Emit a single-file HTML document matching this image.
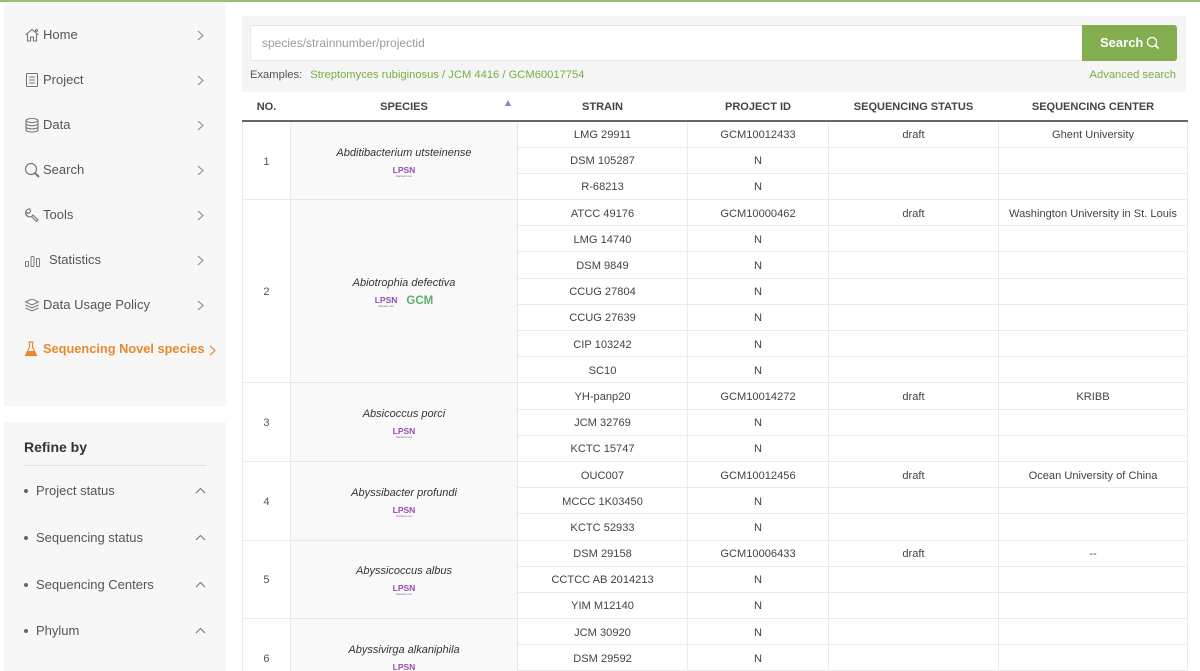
<!DOCTYPE html>
<html><head><meta charset="utf-8">
<style>
*{margin:0;padding:0;box-sizing:border-box}
html,body{width:1200px;height:671px;overflow:hidden;background:#fff;font-family:"Liberation Sans",Arial,sans-serif;color:#444;position:relative}
.topline{position:absolute;left:0;top:0;width:1200px;height:2px;background:#92c36b}
.panel{position:absolute;left:4px;width:222px;background:#f7f7f7}
.mi{position:absolute;left:0;width:222px;height:20px;font-size:13px;color:#555;line-height:20px}
.mi .ic{position:absolute;left:20px;top:2px}
.mi .tx{position:absolute;left:39px;top:0}
.mi .ch{position:absolute;left:193px;top:5px}
.rf{position:absolute;left:0;width:222px;height:20px;font-size:13px;color:#555;line-height:20px}
.rf .dot{position:absolute;left:20px;top:8px;width:4px;height:4px;border-radius:50%;background:#666}
.rf .tx{position:absolute;left:32px;top:0}
.rf .ca{position:absolute;left:191px;top:6px}
.sp{position:absolute;left:242px;top:16px;width:944px;height:76px;background:#f5f5f5}
.inp{position:absolute;left:8px;top:9px;width:840px;height:36px;background:#fff;border:1px solid #e8e8e8;border-radius:3px 0 0 3px;font-size:12px;color:#9a9a9a;line-height:34px;padding-left:11px}
.btn{position:absolute;left:840px;top:9px;width:95px;height:36px;background:#83ad4f;border-radius:0 3px 3px 0;color:#fff;font-weight:bold;font-size:13px;line-height:36px;padding-left:18px}
.ex{position:absolute;left:8px;top:52px;font-size:11.2px;color:#555;line-height:14px}
.ex span{color:#76b041;margin-left:8px}
.adv{position:absolute;right:10px;top:52px;font-size:11.2px;color:#76b041;line-height:14px}
table{position:absolute;left:242px;top:93px;width:945px;border-collapse:collapse;table-layout:fixed}
th{height:28px;font-size:11px;font-weight:bold;color:#444;text-align:center;border-bottom:2px solid #666;vertical-align:middle;position:relative}
td{height:26.2px;font-size:11.1px;color:#444;text-align:center;border:1px solid #ebebeb;vertical-align:middle;padding:2px 0 0 0}
td.sp2{background:#f9f9f9;border-color:#e6e6e6}
td.no{color:#555}
.nm{font-style:italic;font-size:11px;color:#333;line-height:14px;margin-top:-1px}
.logos{margin-top:6px;height:11px;display:flex;justify-content:center;align-items:flex-start;gap:9px}
.lpsn{display:inline-block;color:#9a4db0;font-weight:bold;font-size:8.5px;line-height:8px;text-align:center}
.lpsn i{display:block;font-style:normal;font-weight:normal;font-size:3px;line-height:4px;color:#9a4db0}
.gcm{color:#5fae6e;font-weight:bold;font-size:11.5px;line-height:11px}
.arrow{position:absolute;left:263px;top:7px;width:0;height:0;border-left:3px solid transparent;border-right:3px solid transparent;border-bottom:6px solid #7b80d8}
</style></head><body>
<div class="topline"></div>

<div class="panel" style="top:3px;height:403px">
  <div class="mi" style="top:22px">
    <svg class="ic" width="16" height="16" viewBox="0 0 16 16" fill="none" stroke="#777" stroke-width="1.1"><path d="M1.5 8 L8 2.5 L14.5 8"/><path d="M3.5 7 V14 H6.5 V10 H9.5 V14 H12.5 V7"/><circle cx="12.5" cy="3.5" r="1"/></svg>
    <span class="tx">Home</span>
    <svg class="ch" width="7" height="11" viewBox="0 0 7 11"><polyline points="1,1 6,5.5 1,10" fill="none" stroke="#888" stroke-width="1.1"/></svg>
  </div>
  <div class="mi" style="top:67px">
    <svg class="ic" width="16" height="16" viewBox="0 0 16 16" fill="none" stroke="#777" stroke-width="1.1"><rect x="2.5" y="1.5" width="11" height="13" rx="1"/><path d="M5 5h6M5 8h6M5 11h6"/></svg>
    <span class="tx">Project</span>
    <svg class="ch" width="7" height="11" viewBox="0 0 7 11"><polyline points="1,1 6,5.5 1,10" fill="none" stroke="#888" stroke-width="1.1"/></svg>
  </div>
  <div class="mi" style="top:112px">
    <svg class="ic" width="16" height="16" viewBox="0 0 16 16" fill="none" stroke="#777" stroke-width="1.1"><ellipse cx="8" cy="3.5" rx="6" ry="2"/><path d="M2 3.5V13c0 1.1 2.7 2 6 2s6-.9 6-2V3.5"/><path d="M2 6.7c0 1.1 2.7 2 6 2s6-.9 6-2M2 9.9c0 1.1 2.7 2 6 2s6-.9 6-2"/></svg>
    <span class="tx">Data</span>
    <svg class="ch" width="7" height="11" viewBox="0 0 7 11"><polyline points="1,1 6,5.5 1,10" fill="none" stroke="#888" stroke-width="1.1"/></svg>
  </div>
  <div class="mi" style="top:157px">
    <svg class="ic" width="16" height="16" viewBox="0 0 16 16" fill="none" stroke="#777" stroke-width="1.2"><circle cx="7" cy="7" r="5.5"/><path d="M11 11 L15 15" stroke-width="2"/></svg>
    <span class="tx">Search</span>
    <svg class="ch" width="7" height="11" viewBox="0 0 7 11"><polyline points="1,1 6,5.5 1,10" fill="none" stroke="#888" stroke-width="1.1"/></svg>
  </div>
  <div class="mi" style="top:202px">
    <svg class="ic" width="16" height="16" viewBox="0 0 16 16" fill="none" stroke="#777" stroke-width="1.1"><path d="M6 2 a4 4 0 1 0 3 6 L14 13 L12.5 14.5 L7.5 9.5 A4 4 0 0 1 2 5 L4.5 6.5 L6.5 4.5 Z"/></svg>
    <span class="tx">Tools</span>
    <svg class="ch" width="7" height="11" viewBox="0 0 7 11"><polyline points="1,1 6,5.5 1,10" fill="none" stroke="#888" stroke-width="1.1"/></svg>
  </div>
  <div class="mi" style="top:247px">
    <svg class="ic" width="18" height="16" viewBox="0 0 18 16" fill="none" stroke="#777" stroke-width="1"><rect x="1.5" y="9.5" width="3" height="5" rx="1"/><rect x="7" y="4.5" width="3" height="10" rx="1"/><rect x="12.5" y="6.5" width="3" height="8" rx="1"/></svg>
    <span class="tx" style="left:45px">Statistics</span>
    <svg class="ch" width="7" height="11" viewBox="0 0 7 11"><polyline points="1,1 6,5.5 1,10" fill="none" stroke="#888" stroke-width="1.1"/></svg>
  </div>
  <div class="mi" style="top:292px">
    <svg class="ic" width="16" height="16" viewBox="0 0 16 16" fill="none" stroke="#777" stroke-width="1"><path d="M1.5 5 L8 2 L14.5 5 L8 8 Z"/><path d="M1.5 8 L8 11 L14.5 8"/><path d="M1.5 11 L8 14 L14.5 11"/></svg>
    <span class="tx">Data Usage Policy</span>
    <svg class="ch" width="7" height="11" viewBox="0 0 7 11"><polyline points="1,1 6,5.5 1,10" fill="none" stroke="#888" stroke-width="1.1"/></svg>
  </div>
  <div class="mi" style="top:336px;color:#e8892f;font-weight:bold;font-size:12.8px">
    <svg class="ic" width="14" height="16" viewBox="0 0 14 16"><path d="M4.5 1 H9.5 M5.5 1 V6 L1.5 14.5 H12.5 L8.5 6 V1" fill="none" stroke="#e8892f" stroke-width="1.2"/><path d="M3.5 10 H10.5 L12.5 14.5 H1.5 Z" fill="#e8892f"/></svg>
    <span class="tx">Sequencing Novel species</span>
    <svg class="ch" width="7" height="11" viewBox="0 0 7 11" style="left:205px;top:6px"><polyline points="1,1 6,5.5 1,10" fill="none" stroke="#e8892f" stroke-width="1.2"/></svg>
  </div>
</div>

<div class="panel" style="top:422px;height:260px">
  <div style="position:absolute;left:20px;top:16px;font-size:14px;font-weight:bold;color:#333;line-height:18px">Refine by</div>
  <div style="position:absolute;left:20px;top:43px;width:182px;height:1px;background:#e0e0e0"></div>
  <div class="rf" style="top:59px"><span class="dot"></span><span class="tx">Project status</span><svg class="ca" width="11" height="7" viewBox="0 0 11 7"><polyline points="1,6 5.5,1.5 10,6" fill="none" stroke="#777" stroke-width="1.1"/></svg></div>
  <div class="rf" style="top:106px"><span class="dot"></span><span class="tx">Sequencing status</span><svg class="ca" width="11" height="7" viewBox="0 0 11 7"><polyline points="1,6 5.5,1.5 10,6" fill="none" stroke="#777" stroke-width="1.1"/></svg></div>
  <div class="rf" style="top:153px"><span class="dot"></span><span class="tx">Sequencing Centers</span><svg class="ca" width="11" height="7" viewBox="0 0 11 7"><polyline points="1,6 5.5,1.5 10,6" fill="none" stroke="#777" stroke-width="1.1"/></svg></div>
  <div class="rf" style="top:199px"><span class="dot"></span><span class="tx">Phylum</span><svg class="ca" width="11" height="7" viewBox="0 0 11 7"><polyline points="1,6 5.5,1.5 10,6" fill="none" stroke="#777" stroke-width="1.1"/></svg></div>
</div>

<div class="sp">
  <div class="inp">species/strainnumber/projectid</div>
  <div class="btn">Search<svg width="14" height="14" viewBox="0 0 14 14" style="position:absolute;left:64px;top:11px" fill="none" stroke="#fff" stroke-width="1.3"><circle cx="6" cy="6" r="4.6"/><path d="M9.4 9.4 L12.5 12.5" stroke-width="1.8"/></svg></div>
  <div class="ex">Examples:<span>Streptomyces rubiginosus / JCM 4416 / GCM60017754</span></div>
  <div class="adv">Advanced search</div>
</div>

<table>
<colgroup><col style="width:48px"><col style="width:227px"><col style="width:170px"><col style="width:141px"><col style="width:170px"><col style="width:189px"></colgroup>
<thead><tr><th>NO.</th><th>SPECIES<span class="arrow" style="left:214px"></span></th><th>STRAIN</th><th>PROJECT ID</th><th>SEQUENCING STATUS</th><th>SEQUENCING CENTER</th></tr></thead>
<tbody>
<tr><td class="no" rowspan="3">1</td><td class="sp2" rowspan="3"><div class="nm">Abditibacterium utsteinense</div><div class="logos"><span class="lpsn">LPSN<i>bacterio.net</i></span></div></td><td>LMG 29911</td><td>GCM10012433</td><td>draft</td><td>Ghent University</td></tr>
<tr><td>DSM 105287</td><td>N</td><td></td><td></td></tr>
<tr><td>R-68213</td><td>N</td><td></td><td></td></tr>

<tr><td class="no" rowspan="7">2</td><td class="sp2" rowspan="7"><div class="nm">Abiotrophia defectiva</div><div class="logos"><span class="lpsn">LPSN<i>bacterio.net</i></span><span class="gcm">GCM</span></div></td><td>ATCC 49176</td><td>GCM10000462</td><td>draft</td><td>Washington University in St. Louis</td></tr>
<tr><td>LMG 14740</td><td>N</td><td></td><td></td></tr>
<tr><td>DSM 9849</td><td>N</td><td></td><td></td></tr>
<tr><td>CCUG 27804</td><td>N</td><td></td><td></td></tr>
<tr><td>CCUG 27639</td><td>N</td><td></td><td></td></tr>
<tr><td>CIP 103242</td><td>N</td><td></td><td></td></tr>
<tr><td>SC10</td><td>N</td><td></td><td></td></tr>

<tr><td class="no" rowspan="3">3</td><td class="sp2" rowspan="3"><div class="nm">Absicoccus porci</div><div class="logos"><span class="lpsn">LPSN<i>bacterio.net</i></span></div></td><td>YH-panp20</td><td>GCM10014272</td><td>draft</td><td>KRIBB</td></tr>
<tr><td>JCM 32769</td><td>N</td><td></td><td></td></tr>
<tr><td>KCTC 15747</td><td>N</td><td></td><td></td></tr>

<tr><td class="no" rowspan="3">4</td><td class="sp2" rowspan="3"><div class="nm">Abyssibacter profundi</div><div class="logos"><span class="lpsn">LPSN<i>bacterio.net</i></span></div></td><td>OUC007</td><td>GCM10012456</td><td>draft</td><td>Ocean University of China</td></tr>
<tr><td>MCCC 1K03450</td><td>N</td><td></td><td></td></tr>
<tr><td>KCTC 52933</td><td>N</td><td></td><td></td></tr>

<tr><td class="no" rowspan="3">5</td><td class="sp2" rowspan="3"><div class="nm">Abyssicoccus albus</div><div class="logos"><span class="lpsn">LPSN<i>bacterio.net</i></span></div></td><td>DSM 29158</td><td>GCM10006433</td><td>draft</td><td>--</td></tr>
<tr><td>CCTCC AB 2014213</td><td>N</td><td></td><td></td></tr>
<tr><td>YIM M12140</td><td>N</td><td></td><td></td></tr>

<tr><td class="no" rowspan="3">6</td><td class="sp2" rowspan="3"><div class="nm">Abyssivirga alkaniphila</div><div class="logos"><span class="lpsn">LPSN<i>bacterio.net</i></span></div></td><td>JCM 30920</td><td>N</td><td></td><td></td></tr>
<tr><td>DSM 29592</td><td>N</td><td></td><td></td></tr>
<tr><td>LMG 29000</td><td>N</td><td></td><td></td></tr>
</tbody>
</table>
</body></html>
